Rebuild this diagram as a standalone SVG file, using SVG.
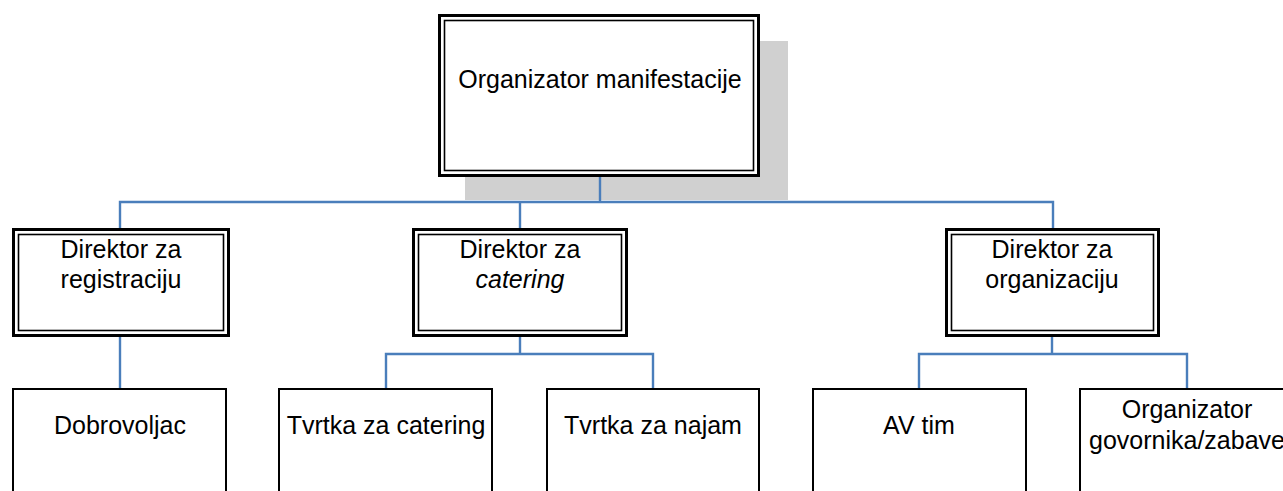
<svg xmlns="http://www.w3.org/2000/svg" width="1283" height="491" viewBox="0 0 1283 491">
<style>
.bg{fill:#ffffff}
.shadow{fill:#d0d0d0}
.outer{fill:#ffffff;stroke:#000;stroke-width:3}
.inner{fill:none;stroke:#000;stroke-width:1.6}
.box{fill:#ffffff;stroke:#000;stroke-width:2}
.conn{fill:none;stroke:#4a7ebb;stroke-width:2.4}
text{font-family:"Liberation Sans",Arial,sans-serif;font-size:25px;fill:#000;text-anchor:middle}
</style>
<rect class="bg" x="0" y="0" width="1283" height="491"/>
<g id="top">
<rect class="shadow" x="465" y="41" width="323" height="159"/>
<rect class="outer" x="439.5" y="15.5" width="319" height="160"/>
<rect class="inner" x="444.5" y="20.5" width="309" height="150"/>
<text x="600" y="88">Organizator manifestacije</text>
</g>
<g id="dir-registracija">
<rect class="outer" x="13.5" y="229.5" width="215" height="106"/>
<rect class="inner" x="18.5" y="234.5" width="205" height="96"/>
<text x="121" y="258">Direktor za</text>
<text x="121" y="288">registraciju</text>
</g>
<g id="dir-catering">
<rect class="outer" x="413.5" y="229.5" width="213" height="106"/>
<rect class="inner" x="418.5" y="234.5" width="203" height="96"/>
<text x="520" y="258">Direktor za</text>
<text x="520" y="288" font-style="italic">catering</text>
</g>
<g id="dir-organizacija">
<rect class="outer" x="946.5" y="229.5" width="212" height="106"/>
<rect class="inner" x="951.5" y="234.5" width="202" height="96"/>
<text x="1052" y="258">Direktor za</text>
<text x="1052" y="288">organizaciju</text>
</g>
<g id="dobrovoljac">
<rect class="box" x="13" y="389" width="213" height="120"/>
<text x="120" y="434">Dobrovoljac</text>
</g>
<g id="tvrtka-catering">
<rect class="box" x="279" y="389" width="213" height="120"/>
<text x="386" y="434">Tvrtka za catering</text>
</g>
<g id="tvrtka-najam">
<rect class="box" x="547" y="389" width="212" height="120"/>
<text x="653" y="434">Tvrtka za najam</text>
</g>
<g id="av-tim">
<rect class="box" x="813" y="389" width="213" height="120"/>
<text x="919" y="434">AV tim</text>
</g>
<g id="organizator-govornika">
<rect class="box" x="1080" y="389" width="215" height="120"/>
<text x="1187" y="418">Organizator</text>
<text x="1187" y="449">govornika/zabave</text>
</g>
<g id="connectors">
<path class="conn" d="M600 177 V202 M120 228 V202 H1053 V228 M520 202 V228"/>
<path class="conn" d="M120 337 V388"/>
<path class="conn" d="M520 337 V354 M386 388 V354 H653 V388"/>
<path class="conn" d="M1052 337 V354 M919 388 V354 H1187 V388"/>
</g>
</svg>
